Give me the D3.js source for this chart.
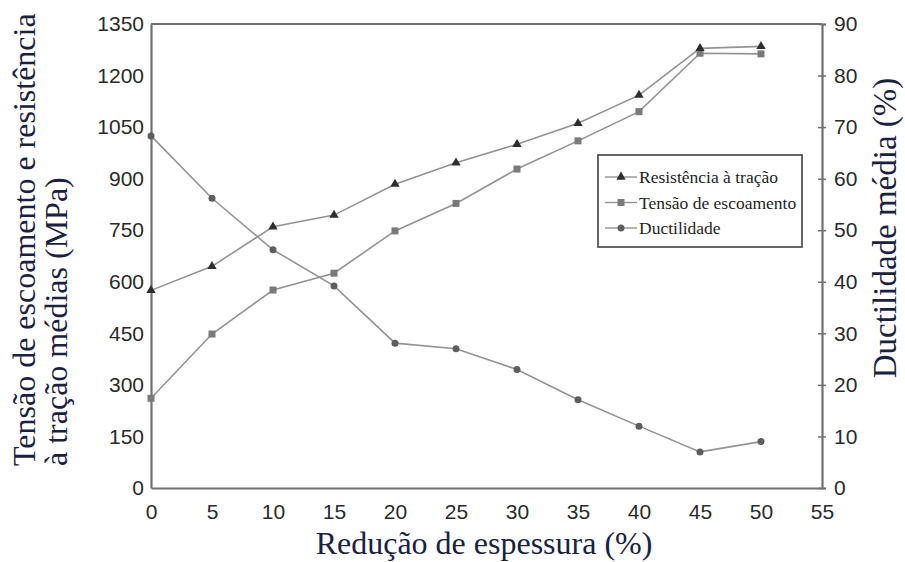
<!DOCTYPE html>
<html>
<head>
<meta charset="utf-8">
<script src="https://cdn.jsdelivr.net/npm/d3@7/dist/d3.min.js"></script>
<style>
  html, body { margin: 0; padding: 0; background: #fff; }
  svg { display: block; }
</style>
</head>
<body>
<svg id="chart" width="905" height="562"></svg>
<script>
// Espessura reduzida (%)
const reducao = [0, 5, 10, 15, 20, 25, 30, 35, 40, 45, 50];
// Resistência à tração média (MPa)
const resistencia = [575, 645, 760, 794, 884, 946, 1000, 1061, 1143, 1279, 1285];
// Tensão de escoamento média (MPa)
const escoamento = [261, 448, 576, 625, 748, 828, 928, 1010, 1095, 1265, 1263];
// Ductilidade média (%)
const ductilidade = [68.3, 56.2, 46.2, 39.2, 28.1, 27.0, 23.0, 17.1, 12.0, 7.0, 9.0];

const xTicks = [0, 5, 10, 15, 20, 25, 30, 35, 40, 45, 50, 55];
const yLeftTicks = [0, 150, 300, 450, 600, 750, 900, 1050, 1200, 1350];
const yRightTicks = [0, 10, 20, 30, 40, 50, 60, 70, 80, 90];

const legendLabels = ["Resistência à tração", "Tensão de escoamento", "Ductilidade"];

const SANS = '"Liberation Sans", Arial, Helvetica, sans-serif';
const SERIF = '"Liberation Serif", "Times New Roman", Times, "DejaVu Serif", serif';

const svg = d3.select("#chart");
const plotLeft = 151, plotRight = 822, plotTop = 24, plotBottom = 488;

const x = d3.scaleLinear().domain([0, 55]).range([plotLeft, plotRight]);
const yL = d3.scaleLinear().domain([0, 1350]).range([plotBottom, plotTop]);
const yR = d3.scaleLinear().domain([0, 90]).range([plotBottom, plotTop]);

const axisColor = "#707070";
const titleColor = "#1b2240";
const fmt = d3.format("d");

function styleAxis(g) {
  g.attr("font-family", null).attr("font-size", null);
  g.select(".domain").attr("stroke", axisColor).attr("stroke-width", 2.2);
  g.selectAll("text")
    .style("font-family", SANS).style("font-size", "21px").attr("fill", "#2a2a2a");
}

// Bottom axis
const gx = svg.append("g").attr("transform", `translate(0,${plotBottom})`)
  .call(d3.axisBottom(x).tickValues(xTicks).tickFormat(fmt).tickSize(0).tickPadding(16));
styleAxis(gx);

// Left axis
const gl = svg.append("g").attr("transform", `translate(${plotLeft},0)`)
  .call(d3.axisLeft(yL).tickValues(yLeftTicks).tickFormat(fmt).tickSize(0).tickPadding(7));
styleAxis(gl);

// Right axis with crossing ticks
const gr = svg.append("g").attr("transform", `translate(${plotRight},0)`)
  .call(d3.axisRight(yR).tickValues(yRightTicks).tickFormat(fmt).tickSize(4).tickPadding(8));
styleAxis(gr);
gr.selectAll(".tick line").attr("x1", -4).attr("stroke", axisColor).attr("stroke-width", 1.5);

// Top frame line
svg.append("line")
  .attr("x1", x(0)).attr("x2", x(55)).attr("y1", yL(1350)).attr("y2", yL(1350))
  .attr("stroke", axisColor).attr("stroke-width", 2.2);

const lineColor = "#939393";

function drawSeries(values, yScale, marker) {
  const pts = reducao.map((r, i) => [x(r), yScale(values[i])]);
  svg.append("path")
    .attr("d", d3.line()(pts))
    .attr("fill", "none").attr("stroke", lineColor).attr("stroke-width", 1.6);
  const g = svg.append("g");
  pts.forEach(p => marker(g, p[0], p[1]));
}

const tri = (g, cx, cy) => g.append("path")
  .attr("d", d3.symbol().type(d3.symbolTriangle).size(38)())
  .attr("transform", `translate(${cx},${cy})`).attr("fill", "#2e2e2e");
const sq = (g, cx, cy) => g.append("rect")
  .attr("x", cx - 3.5).attr("y", cy - 3.5).attr("width", 7).attr("height", 7)
  .attr("fill", "#7a7a7a");
const circ = (g, cx, cy) => g.append("circle")
  .attr("cx", cx).attr("cy", cy).attr("r", 3.5).attr("fill", "#5e5e5e");

drawSeries(ductilidade, yR, circ);
drawSeries(escoamento, yL, sq);
drawSeries(resistencia, yL, tri);

// Legend
const lg = svg.append("g");
lg.append("rect").attr("x", 598).attr("y", 155).attr("width", 204).attr("height", 92)
  .attr("fill", "#fff").attr("stroke", "#555").attr("stroke-width", 1.8);
const markers = [tri, sq, circ];
legendLabels.forEach((lab, i) => {
  const cy = 177 + i * 25.5;
  lg.append("line").attr("x1", 605).attr("x2", 637).attr("y1", cy).attr("y2", cy)
    .attr("stroke", lineColor).attr("stroke-width", 1.4);
  markers[i](lg, 621, cy);
  lg.append("text").attr("x", 639).attr("y", cy).attr("dy", "0.35em")
    .style("font-family", SERIF).style("font-size", "17.5px").attr("fill", "#1e1e1e")
    .text(lab);
});

// Axis titles
svg.append("text")
  .attr("x", 484).attr("y", 554).attr("text-anchor", "middle")
  .style("font-family", SERIF).style("font-size", "32px").attr("fill", titleColor)
  .text("Redução de espessura (%)");

const ltitle = svg.append("text")
  .attr("transform", "translate(0,466) rotate(-90)")
  .style("font-family", SERIF).style("font-size", "32px").attr("fill", titleColor);
ltitle.append("tspan").attr("x", 0).attr("y", 35).text("Tensão de escoamento e resistência");
ltitle.append("tspan").attr("x", 0).attr("y", 67).text("à tração médias (MPa)");

svg.append("text")
  .attr("transform", "translate(896,228) rotate(-90)")
  .attr("text-anchor", "middle")
  .style("font-family", SERIF).style("font-size", "33px").attr("fill", titleColor)
  .text("Ductilidade média (%)");
</script>
</body>
</html>
